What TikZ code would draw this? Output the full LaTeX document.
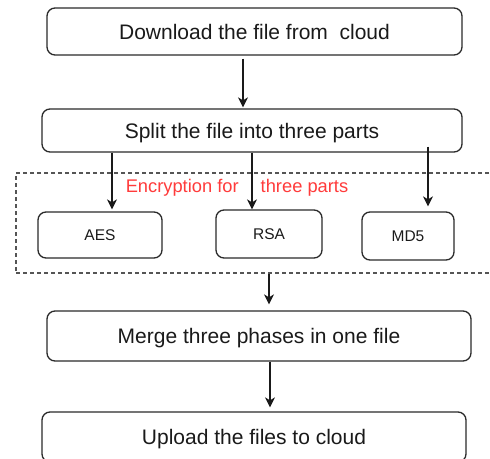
\documentclass[tikz,border=0pt]{standalone}
\usepackage{fontspec}
\setmainfont{Liberation Sans}
\usetikzlibrary{arrows.meta}
\definecolor{edge}{HTML}{2B2B2B}
\definecolor{ink}{HTML}{1A1A1A}
\definecolor{note}{HTML}{FF3B3B}
\tikzset{
  stepbox/.style={draw=edge, line width=1.3pt, rounded corners=8pt, inner sep=0pt,
    text=ink, font=\fontsize{21}{25}\selectfont, text height=15pt, text depth=0pt},
  algbox/.style={draw=edge, line width=1.3pt, rounded corners=8pt, inner sep=0pt,
    text=ink, font=\fontsize{15.5}{18}\selectfont, text height=11.1pt, text depth=0pt},
  groupbox/.style={draw=edge!80, line width=1.2pt, dash pattern=on 4pt off 3pt, inner sep=0pt},
  flow/.style={draw=ink, line width=1.3pt, -{Stealth[length=10pt,width=10pt,inset=3pt]}},
}
\begin{document}
\begin{tikzpicture}[x=1pt,y=-1pt]
  \clip (0,0) rectangle (490,458);
  \fill[white] (0,0) rectangle (490,458);

  % main steps
  \node[stepbox, minimum width=415pt, minimum height=47pt] (down) at (254.5,31.5) {Download the file from\ \ cloud};
  \node[stepbox, minimum width=420pt, minimum height=43pt] (split) at (252,130.5) {Split the file into three parts};

  % encryption group
  \node[groupbox, minimum width=484pt, minimum height=100pt] (enc) at (258,223) {};
  \node[text=note, font=\fontsize{18.3}{22}\selectfont, inner sep=0pt, text height=13.1pt, text depth=0pt]
    (enclabel) at (237,186) {Encryption for\hspace{17pt} three parts};
  \node[algbox, minimum width=124pt, minimum height=46pt] (aes) at (100,235) {AES};
  \node[algbox, minimum width=106pt, minimum height=48pt] (rsa) at (269,234) {RSA};
  \node[algbox, minimum width=92pt, minimum height=48pt] (md5) at (408,236) {MD5};

  \node[stepbox, minimum width=424pt, minimum height=50pt] (merge) at (259,336) {Merge three phases in one file};
  \node[stepbox, minimum width=424pt, minimum height=50pt] (up) at (254,437) {Upload the files to cloud};

  % connectors
  \draw[flow, shorten <=3pt, shorten >=1pt] ([xshift=-11.5]down.south) -- ([xshift=-11.5]down.south |- split.north);
  \draw[flow, shorten >=2pt] ([xshift=12]aes.north |- split.south) -- ([xshift=12]aes.north);
  \draw[flow] ([xshift=-17]rsa.north |- split.south) -- ([xshift=-17]rsa.north);
  \draw[flow, shorten <=-6pt, shorten >=5pt] ([xshift=20]md5.north |- split.south) -- ([xshift=20]md5.north);
  \draw[flow, shorten >=6pt] ([xshift=11]enc.south) -- ([xshift=11]enc.south |- merge.north);
  \draw[flow, shorten >=4pt] ([xshift=11]merge.south) -- ([xshift=11]merge.south |- up.north);
\end{tikzpicture}
\end{document}
